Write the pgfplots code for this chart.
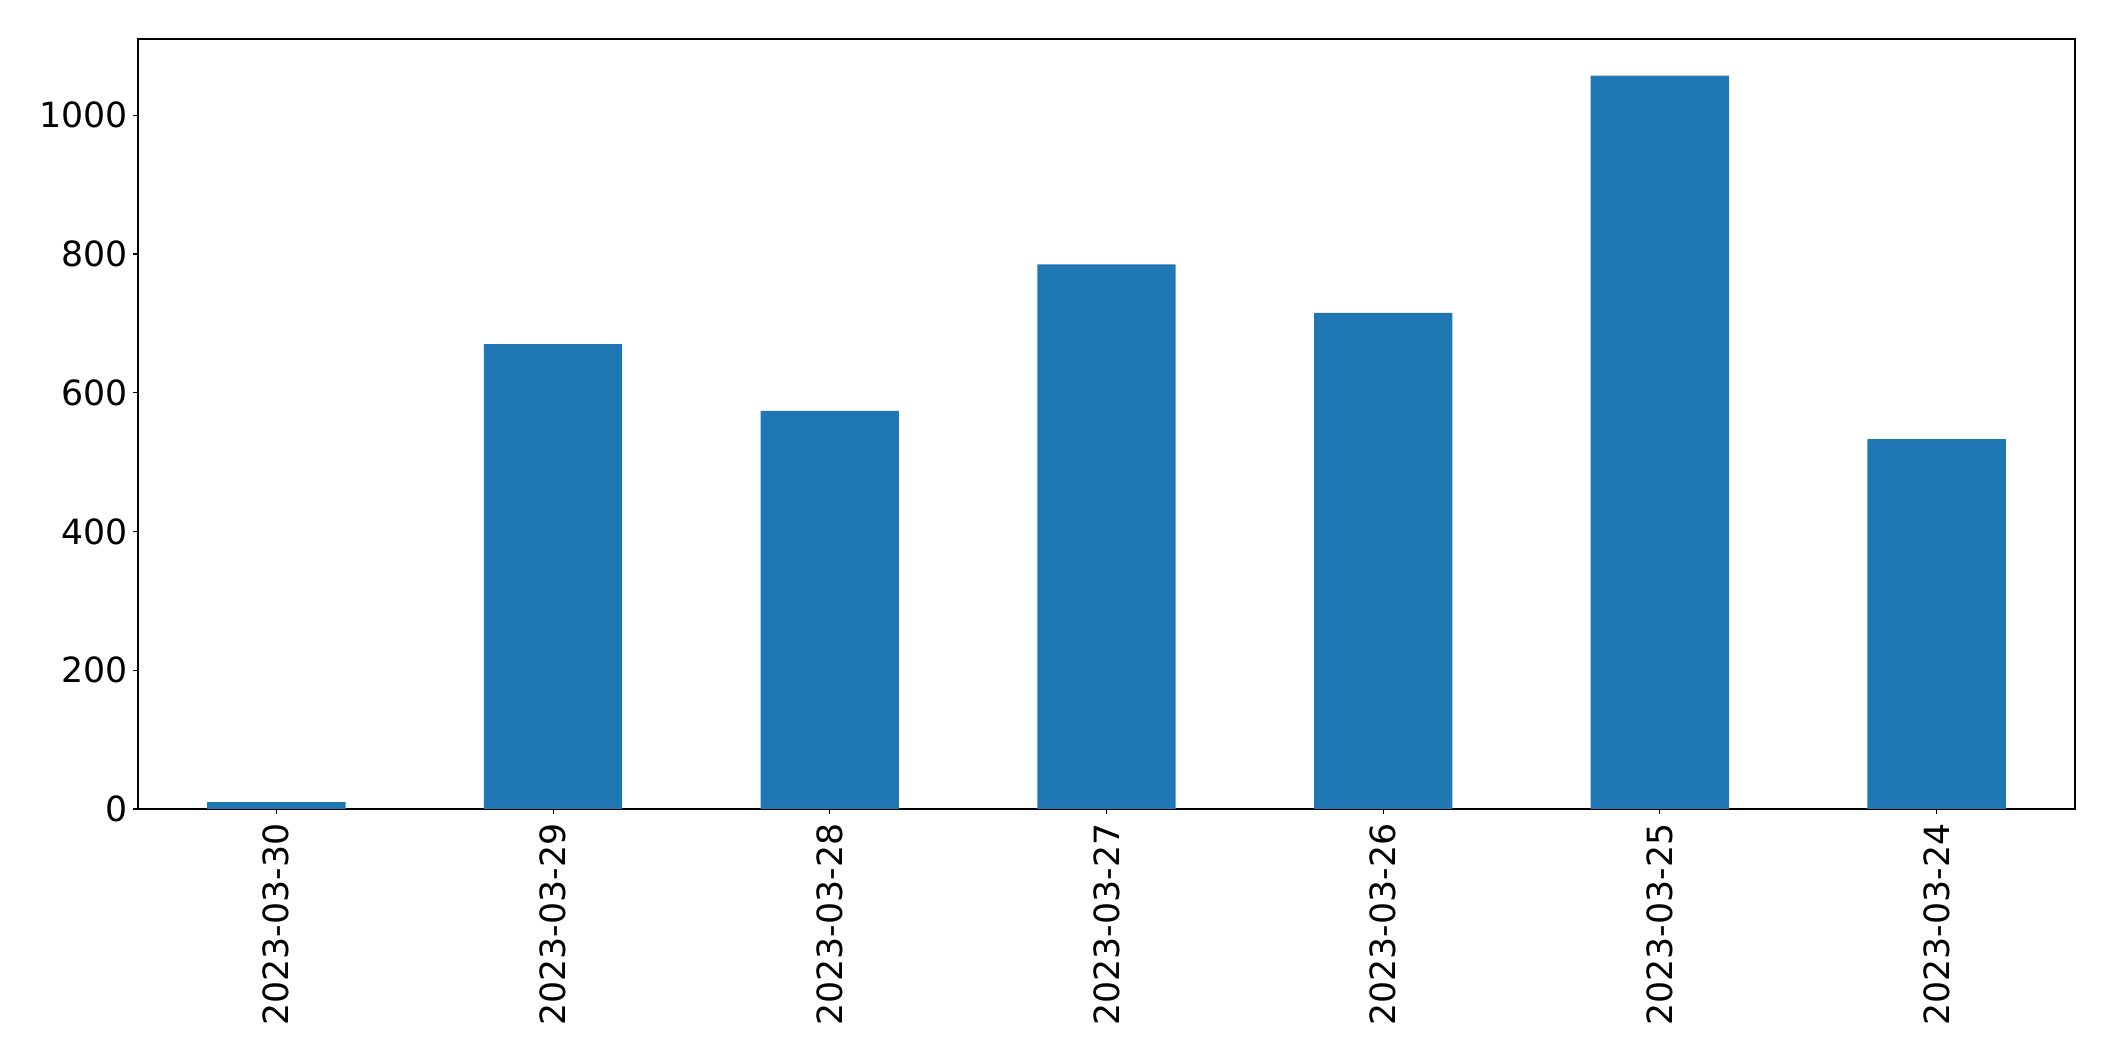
\documentclass[border=0pt]{standalone}
\usepackage{pgfplots}
\pgfplotsset{compat=1.18}
\usepackage{fontspec}
\setmainfont{DejaVu Sans}
\definecolor{mplblue}{HTML}{1F77B4}
\begin{document}
\begin{tikzpicture}
\begin{axis}[
  at={(0,0)}, anchor=south west,
  scale only axis,
  width=697.3pt, height=277.2pt,
  xmin=-0.5, xmax=6.5, ymin=0, ymax=1110,
  xtick={0,1,2,3,4,5,6},
  xticklabels={2023-03-30,2023-03-29,2023-03-28,2023-03-27,2023-03-26,2023-03-25,2023-03-24},
  ytick={0,200,400,600,800,1000},
  tick align=outside,
  xtick pos=bottom, ytick pos=left,
  major tick length=1.75pt,
  tick style={black, line width=0.4pt},
  axis line style={line width=0.4pt},
  x tick label style={rotate=90, anchor=east, inner sep=0pt, outer sep=0pt},
  xticklabel shift=3.5pt,
  yticklabel shift=1.75pt,
  y tick label style={inner sep=0pt},
  ticklabel style={font=\fontsize{12.5}{15}\selectfont},
  /pgf/number format/assume math mode=true,
  scaled y ticks=false,
  yticklabel style={/pgf/number format/1000 sep={}},
  clip=false,
]
\addplot[ybar, bar width=0.5, fill=mplblue, draw=none] coordinates {
  (0,10) (1,670) (2,574) (3,785) (4,715) (5,1057) (6,533)
};
\end{axis}
\path[use as bounding box] (-49.68pt,-90.72pt) rectangle (711.72pt,291.24pt);
\end{tikzpicture}
\end{document}
